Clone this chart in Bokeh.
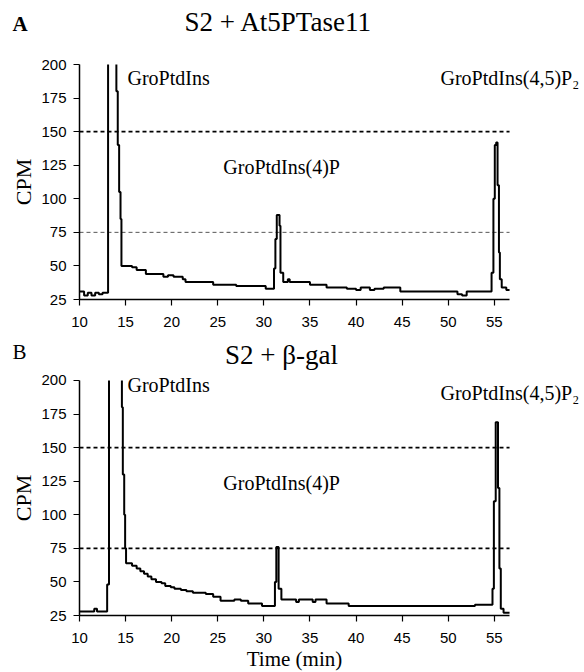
import math
from bokeh.plotting import figure
from bokeh.layouts import column
from bokeh.models import Range1d, FixedTicker, Label
from bokeh.embed import file_html
from bokeh.resources import INLINE

# ---------------- data ----------------
x_ticks = [10, 15, 20, 25, 30, 35, 40, 45, 50, 55]
y_ticks = [25, 50, 75, 100, 125, 150, 175, 200]
x_span = [10, 56.65]          # extent of the time axis
ref_levels = [150, 75]        # dashed reference levels

# Panel A: S2 + At5PTase11  (step trace, value holds until next time; 400 = off scale)
time_a = [10.0, 10.5, 10.9, 11.3, 11.7, 12.1, 12.5, 12.9, 13.1, 14.0, 14.15, 14.3,
          14.45, 14.55, 15.7, 16.2, 17.2, 19.1, 19.6, 20.2, 21.2, 21.5, 24.5, 27.0,
          30.2, 31.1, 31.25, 31.4, 31.7, 31.8, 32.1, 32.6, 32.8, 35.0, 36.8, 38.5,
          39.0, 40.0, 40.5, 41.5, 42.0, 43.0, 44.8, 47.0, 50.0, 51.0, 51.5, 52.0,
          54.7, 54.9, 55.05, 55.2, 55.35, 55.5, 55.6, 55.8, 56.3, 56.65]
cpm_a = [31, 28, 30, 28, 30, 29, 30, 30, 400, 180, 140, 105,
         85, 50, 49, 47, 44, 42, 43, 42, 40, 38, 36, 35,
         33, 48, 70, 88, 80, 45, 38, 40, 38, 36, 34, 34,
         33, 32, 34, 32, 33, 34, 31, 31, 31, 29, 28, 31,
         45, 100, 140, 142, 110, 60, 40, 34, 32, 32]

# Panel B: S2 + beta-gal
time_b = [10.0, 11.6, 11.9, 13.0, 13.2, 14.6, 14.7, 14.85, 14.95, 15.05, 15.7,
          16.2, 16.6, 17.0, 17.4, 17.8, 18.3, 18.9, 19.3, 19.9, 20.3, 21.0, 21.6,
          22.3, 23.7, 24.5, 25.3, 26.8, 27.5, 28.3, 29.8, 31.2, 31.35, 31.6, 31.9,
          33.5, 33.8, 35.3, 35.6, 36.8, 39.2, 52.9, 54.8, 54.95, 55.15, 55.4,
          55.55, 55.7, 56.0, 56.65]
cpm_b = [28, 30, 28, 48, 400, 180, 130, 100, 75, 64, 62,
         60, 58, 56, 54, 52, 50, 49, 47, 46, 45, 44, 43,
         42, 41, 39, 36, 37, 36, 34, 32, 50, 76, 45, 37,
         35, 37, 35, 37, 34, 32, 33, 45, 110, 169, 120,
         60, 30, 27, 27]

SERIF = "Liberation Serif"
SANS = "Liberation Sans"


def step_path(times, values, top):
    """Expand a hold-until-next step trace into line vertices; values above the
    axis top are cut at the top (the line is broken there, as in the figure)."""
    xs, ys = [], []
    for i in range(len(times) - 1):
        t0, t1, v = times[i], times[i + 1], values[i]
        if v > top:
            xs += [t0, math.nan, t1]
            ys += [top, math.nan, top]
        else:
            xs += [t0, t1]
            ys += [v, v]
    return xs, ys


def make_panel(times, values, height, y_lo, y_hi, dash_styles, with_xlabel):
    p = figure(width=584, height=height, output_backend="svg", toolbar_location=None,
               title_location=None,
               x_range=Range1d(1.4303, 64.781), y_range=Range1d(y_lo, y_hi),
               min_border_left=0, min_border_right=0,
               min_border_top=0, min_border_bottom=0)
    p.outline_line_color = None
    p.xgrid.visible = False
    p.ygrid.visible = False
    p.background_fill_color = "white"
    p.border_fill_color = "white"

    for ax, ticks in ((p.xaxis, x_ticks), (p.yaxis, y_ticks)):
        ax.ticker = FixedTicker(ticks=ticks)
        ax.axis_line_width = 1.5
        ax.axis_line_color = "black"
        ax.major_tick_in = 0
        ax.major_tick_out = 6
        ax.major_tick_line_width = 1.2
        ax.major_tick_line_color = "black"
        ax.minor_tick_line_color = None
        ax.major_label_text_font = SANS
        ax.major_label_text_font_size = "15px"
        ax.major_label_text_color = "black"

    p.xaxis.fixed_location = y_ticks[0]
    p.yaxis.fixed_location = x_span[0]
    p.xaxis.bounds = (x_span[0], x_span[1])
    p.yaxis.bounds = (y_ticks[0], y_ticks[-1])

    p.yaxis.major_label_standoff = 7
    p.yaxis.axis_label = "CPM"
    p.yaxis.axis_label_text_font = SERIF
    p.yaxis.axis_label_text_font_style = "normal"
    p.yaxis.axis_label_text_font_size = "22px"
    p.yaxis.axis_label_text_color = "black"
    p.yaxis.axis_label_standoff = 2

    p.xaxis.major_label_standoff = 11
    if with_xlabel:
        p.xaxis.axis_label = "Time (min)"
        p.xaxis.axis_label_text_font = SERIF
        p.xaxis.axis_label_text_font_style = "normal"
        p.xaxis.axis_label_text_font_size = "21px"
        p.xaxis.axis_label_text_color = "black"
        p.xaxis.axis_label_standoff = 1

    for lvl, (dash, w, col) in zip(ref_levels, dash_styles):
        p.line(x_span, [lvl, lvl], line_dash=dash, line_width=w, line_color=col)

    xs, ys = step_path(times, values, y_ticks[-1])
    p.line(xs, ys, line_color="black", line_width=2)
    return p


pA = make_panel(time_a, cpm_a, 335, -1.808, 247.66,
                [("4 3", 1.6, "black"), ("4 3", 1.0, "#555555")], False)
pB = make_panel(time_b, cpm_b, 336, -16.70, 233.51,
                [("4 3", 1.6, "black"), ("4 3", 1.6, "black")], True)


def lab(p, x, y, text, size, align="left", style="normal"):
    p.add_layout(Label(x=x, y=y, text=text, text_font=SERIF, text_font_size=size,
                       text_align=align, text_baseline="alphabetic",
                       text_font_style=style, text_color="black"))


# Panel A texts
lab(pA, 2.732, 230.0, "A", "21px", style="bold")
lab(pA, 31.587, 232.0, "S2 + At5PTase11", "27px", align="center")
lab(pA, 15.2, 189.6, "GroPtdIns", "20px")
lab(pA, 25.6, 124.0, "GroPtdIns(4)P", "20px")
lab(pA, 49.16, 189.6, "GroPtdIns(4,5)P\u2082", "20px")

# Panel B texts
lab(pB, 2.732, 221.0, "B", "21px")
lab(pB, 31.91, 219.0, "S2 + \u03b2-gal", "27px", align="center")
lab(pB, 15.2, 197.0, "GroPtdIns", "20px")
lab(pB, 25.6, 124.0, "GroPtdIns(4)P", "20px")
lab(pB, 49.16, 191.0, "GroPtdIns(4,5)P\u2082", "20px")

layout = column(pA, pB, spacing=0)

open("out.html", "w").write(file_html(layout, INLINE))
